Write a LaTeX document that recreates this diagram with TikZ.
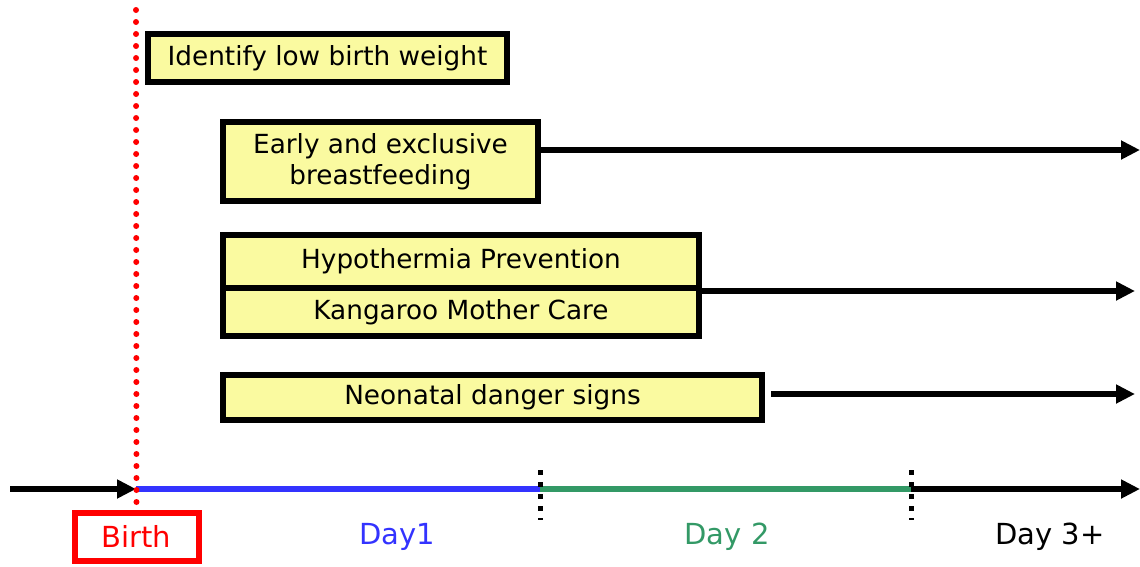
\documentclass[tikz,border=0pt]{standalone}
\usepackage{fontspec}
\setmainfont{DejaVu Sans}
\usetikzlibrary{arrows.meta}
\definecolor{boxfill}{HTML}{FAFAA0}
\definecolor{dayblue}{HTML}{3333FF}
\definecolor{daygreen}{HTML}{339966}
\definecolor{birthred}{HTML}{FF0000}
\tikzset{
  txt/.style={font=\fontsize{26.3}{31}\selectfont},
  daytxt/.style={font=\fontsize{29}{34}\selectfont},
  actbox/.style={draw=black, line width=6pt, fill=boxfill, inner sep=0pt, align=center, txt},
  arr/.style={line width=6pt, -{Triangle[length=19pt,width=18pt]}},
  seg/.style={line width=6pt},
  daymark/.style={line width=5pt, dash pattern=on 5pt off 7pt},
  birthline/.style={birthred, line width=6pt, line cap=round, dash pattern=on 0pt off 12pt}
}
\begin{document}
\begin{tikzpicture}[x=1pt,y=-1pt]
\useasboundingbox (0,0) rectangle (1140,566);
% activity boxes
\node[actbox, minimum width=359pt, minimum height=48pt] (b1) at (327.5,58) {Identify low birth weight};
\node[actbox, minimum width=315pt, minimum height=79pt] (b2) at (380.5,161.5) {Early and exclusive\\breastfeeding};
\node[actbox, minimum width=476pt, minimum height=53pt] (b3) at (461,261.5) {Hypothermia Prevention};
\node[actbox, minimum width=476pt, minimum height=48pt] (b4) at (461,312) {Kangaroo Mother Care};
\node[actbox, minimum width=539pt, minimum height=45pt] (b5) at (492.5,397.5) {Neonatal danger signs};
% continuation arrows
\coordinate (e2) at (1140,150);
\coordinate (e3) at (1135,288);
\coordinate (e5) at (1135,394);
\draw[arr] (b2.east |- e2) -- (e2);
\draw[arr] (b3.south east) -- (b3.south east -| e3);
\draw[arr] ([xshift=6pt]b5.east |- e5) -- (e5);
% timeline
\coordinate (t0) at (10,489);
\coordinate (tb) at (136,489);
\coordinate (td1) at (540,489);
\coordinate (td2) at (911,489);
\coordinate (tend) at (1140,489);
\draw[seg, dayblue] (tb) -- (td1);
\draw[seg, daygreen] (td1) -- (td2);
\draw[arr] (td2) -- (tend);
\draw[arr] (t0) -- (tb);
\draw[daymark] ([yshift=19pt]td1) -- ([yshift=-31pt]td1);
\draw[daymark] ([yshift=19pt]td2) -- ([yshift=-31pt]td2);
% labels
\node[draw=birthred, line width=6pt, minimum width=124pt, minimum height=48pt, inner sep=0pt, text=birthred, daytxt] (birth) at (136.5,536.5) {Birth};
\node[daytxt, text=dayblue] (day1) at (397,537) {Day1};
\node[daytxt, text=daygreen] (day2) at (727,537) {Day 2};
\node[daytxt, text=black] (day3) at (1050,537) {Day 3+};
% birth line
\coordinate (btop) at (136,10);
\draw[birthline] (btop) -- (birth.north);
\end{tikzpicture}
\end{document}
